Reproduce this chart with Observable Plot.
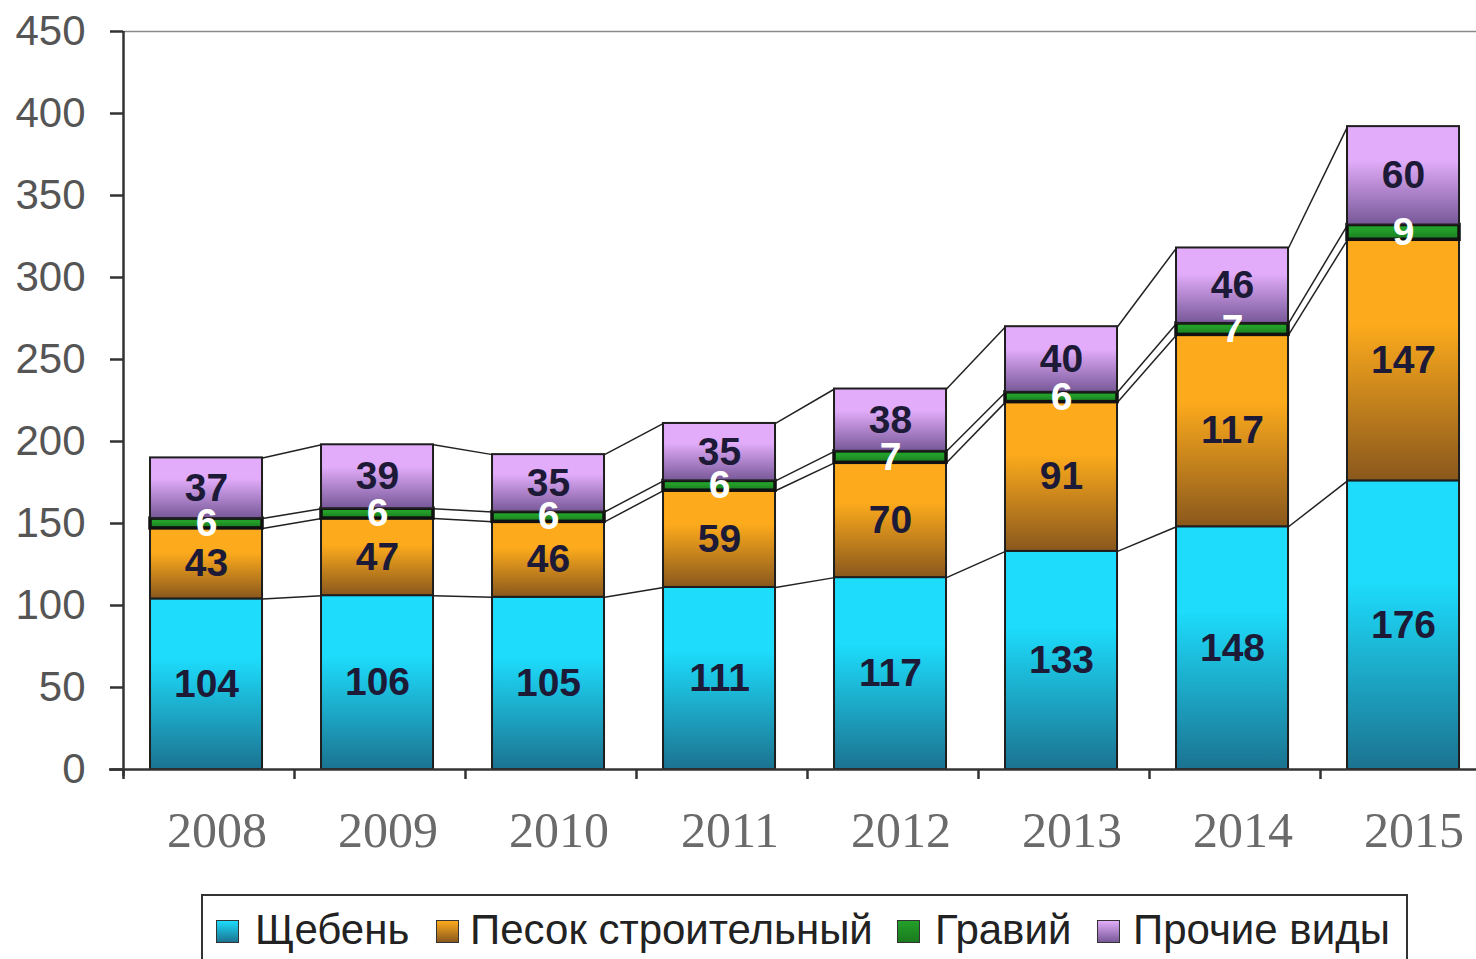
<!DOCTYPE html>
<html>
<head>
<meta charset="utf-8">
<script src="https://cdn.jsdelivr.net/npm/d3@7"></script>
<script src="https://cdn.jsdelivr.net/npm/@observablehq/plot@0.6"></script>
<style>
  html, body { margin: 0; padding: 0; background: #fff; overflow: hidden; }
  #wrap { position: relative; width: 1476px; height: 959px; }
  #chart svg { overflow: hidden; }
  #legend { position: absolute; left: 201px; top: 894px; width: 1207px; height: 90px;
            border: 2px solid #333; box-sizing: border-box; font-family: "Liberation Sans", Arial, sans-serif;
            font-size: 42px; color: #222; }
  .sw { position: absolute; top: 24px; width: 21px; height: 21px; border: 1.5px solid #333; }
  .lab { position: absolute; top: 10px; white-space: nowrap; line-height: 48px; }
</style>
</head>
<body>
<div id="wrap">
  <div id="chart"></div>
  <div id="legend"></div>
</div>
<script>
// ---- data ----
const years = ["2008", "2009", "2010", "2011", "2012", "2013", "2014", "2015"];
const seriesNames = ["Щебень", "Песок строительный", "Гравий", "Прочие виды"];
const shcheben = [104, 106, 105, 111, 117, 133, 148, 176];
const pesok    = [43, 47, 46, 59, 70, 91, 117, 147];
const graviy   = [6, 6, 6, 6, 7, 6, 7, 9];
const prochie  = [37, 39, 35, 35, 38, 40, 46, 60];
const yTicks = [0, 50, 100, 150, 200, 250, 300, 350, 400, 450];

// ---- styles ----
const gradients = [
  ["#1ddcfc", "#1b7390"],   // Щебень
  ["#fdab1c", "#8a581d"],   // Песок
  ["#23a02a", "#1a7a1e"],   // Гравий
  ["#e2acfa", "#775898"]    // Прочие
];
const labelColors = ["#1c1a36", "#1c1a36", "#ffffff", "#1c1a36"];
const barLeft = 0.158, barRight = 0.813;   // bar edges within each category unit

const values = [shcheben, pesok, graviy, prochie];
const rows = [];
years.forEach((yr, i) => {
  let acc = 0;
  values.forEach((arr, s) => {
    const v = arr[i];
    rows.push({i, year: yr, s, value: v, y1: acc, y2: acc + v});
    acc += v;
  });
});
const links = [];
for (let s = 0; s < 4; s++) {
  for (let i = 0; i < years.length - 1; i++) {
    const a = rows.find(r => r.i === i && r.s === s);
    const b = rows.find(r => r.i === i + 1 && r.s === s);
    links.push({x1: i + barRight, x2: i + 1 + barLeft, y1: a.y2, y2: b.y2});
  }
}

const defsMark = () => {
  const ns = "http://www.w3.org/2000/svg";
  const defs = document.createElementNS(ns, "defs");
  gradients.forEach(([c0, c1], k) => {
    const g = document.createElementNS(ns, "linearGradient");
    g.setAttribute("id", "grad" + k);
    g.setAttribute("x1", "0"); g.setAttribute("y1", "0");
    g.setAttribute("x2", "0"); g.setAttribute("y2", "1");
    [[0, c0], [0.35, c0], [1, c1]].forEach(([o, c]) => {
      const st = document.createElementNS(ns, "stop");
      st.setAttribute("offset", o);
      st.setAttribute("stop-color", c);
      g.appendChild(st);
    });
    defs.appendChild(g);
  });
  return defs;
};

const marks = [defsMark];
marks.push(Plot.ruleY([450], {stroke: "#8a8a8a", strokeWidth: 1.5}));
marks.push(Plot.link(links, {x1: "x1", x2: "x2", y1: "y1", y2: "y2", stroke: "#222", strokeWidth: 1.5}));
for (let s = 0; s < 4; s++) {
  marks.push(Plot.rectY(rows.filter(r => r.s === s), {
    x1: d => d.i + barLeft, x2: d => d.i + barRight, y1: "y1", y2: "y2",
    fill: `url(#grad${s})`, stroke: s === 2 ? "#111" : "#1e1e1e", strokeWidth: s === 2 ? 3.5 : 2
  }));
}
for (let s = 0; s < 4; s++) {
  marks.push(Plot.text(rows.filter(r => r.s === s), {
    x: d => d.i + (barLeft + barRight) / 2, y: d => (d.y1 + d.y2) / 2, text: d => String(d.value),
    fill: labelColors[s], fontSize: 39, fontWeight: "bold", fontFamily: "Liberation Sans, Arial, sans-serif"
  }));
}
// axes
marks.push(Plot.axisY({ticks: yTicks, tickSize: 13, tickPadding: 25, fontSize: 42,
  fontFamily: "Liberation Sans, Arial, sans-serif", fill: "#555", stroke: "#333", strokeWidth: 2.5}));
marks.push(Plot.axisX({ticks: d3.range(0, years.length + 1), tickFormat: () => "", tickSize: 10,
  stroke: "#333", strokeWidth: 2.5}));
marks.push(Plot.axisX({ticks: years.map((_, i) => i + 0.5), tickFormat: t => years[Math.floor(t)],
  tickSize: 0, tickPadding: 42, dx: 8, fontSize: 50, fontFamily: "Liberation Serif, Georgia, serif", fill: "#6a6a6a"}));
marks.push(Plot.ruleX([0], {stroke: "#333", strokeWidth: 2.5, insetBottom: -7}));
marks.push(Plot.ruleY([0], {stroke: "#333", strokeWidth: 2.5, insetLeft: -14}));

const chart = Plot.plot({
  width: 1476,
  height: 880,
  marginTop: 31,
  marginBottom: 111,
  marginLeft: 123,
  marginRight: -15,
  x: {type: "linear", domain: [0, years.length], axis: null},
  y: {domain: [0, 450], axis: null},
  style: {background: "#fff", overflow: "hidden"},
  marks
});
document.getElementById("chart").appendChild(chart);

// legend
const legendPos = [[216, 255], [436, 470], [897, 935], [1097, 1133]];
const legend = document.getElementById("legend");
seriesNames.forEach((name, k) => {
  const [sx, tx] = legendPos[k];
  const sw = document.createElement("div");
  sw.className = "sw";
  sw.style.left = (sx - 203) + "px";
  sw.style.background = `linear-gradient(to bottom, ${gradients[k][0]}, ${gradients[k][1]})`;
  const lab = document.createElement("div");
  lab.className = "lab";
  lab.style.left = (tx - 203) + "px";
  lab.textContent = name;
  legend.appendChild(sw);
  legend.appendChild(lab);
});
</script>
</body>
</html>
